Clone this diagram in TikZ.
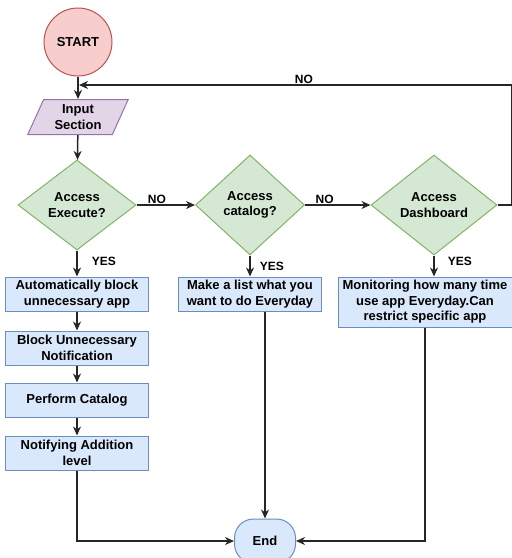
\documentclass[tikz,border=0pt]{standalone}
\usepackage{fontspec}
\setmainfont{Liberation Sans}
\usetikzlibrary{arrows.meta,shapes.geometric}

\definecolor{startfill}{HTML}{F8CECC}
\definecolor{startline}{HTML}{B85450}
\definecolor{inputfill}{HTML}{E1D5E7}
\definecolor{inputline}{HTML}{9673A6}
\definecolor{askfill}{HTML}{D5E8D4}
\definecolor{askline}{HTML}{82B366}
\definecolor{boxfill}{HTML}{DAE8FC}
\definecolor{boxline}{HTML}{6C8EBF}
\definecolor{wire}{HTML}{262626}

\begin{document}
\begin{tikzpicture}[
  x=1pt,y=-1pt,
  font=\fontsize{13}{15.5}\selectfont\bfseries,
  startnode/.style={circle,draw=startline,fill=startfill,line width=1pt,
    minimum size=68pt,inner sep=0pt},
  inputbox/.style={trapezium,trapezium left angle=67,trapezium right angle=113,
    trapezium stretches=true,draw=inputline,fill=inputfill,line width=1pt,
    minimum width=101pt,minimum height=35pt,inner sep=1pt,align=center},
  decision/.style={diamond,draw=askline,fill=askfill,line width=1pt,
    inner sep=0pt,align=center},
  box/.style={draw=boxline,fill=boxfill,line width=1pt,align=center,
    minimum width=143pt,minimum height=34pt,inner sep=2pt},
  endnode/.style={box,rounded corners=19pt,minimum width=61pt,minimum height=44pt},
  lbl/.style={font=\fontsize{12}{13}\selectfont\bfseries,inner sep=1pt},
  arr/.style={-{Stealth[length=9pt,width=8pt]},line width=1.5pt,draw=wire}
]
\useasboundingbox (0,0) rectangle (512,558);

\node[startnode] (start) at (78,42) {START};
\node[inputbox] (input) at (78,117) {Input\\Section};
\node[decision,minimum width=118pt,minimum height=90pt] (execute) at (77,205)
  {Access\\Execute?};
\node[decision,minimum width=109pt,minimum height=100pt] (catalog) at (250,205)
  {Access\\catalog?};
\node[decision,minimum width=126pt,minimum height=100pt] (dashboard) at (434,205)
  {Access\\Dashboard};
\node[box] (autoblock) at (77,294) {Automatically block\\unnecessary app};
\node[box] (notify) at (77,348) {Block Unnecessary\\Notification};
\node[box] (perform) at (77,400) {Perform Catalog};
\node[box] (addition) at (77,453) {Notifying Addition\\level};
\node[box] (makelist) at (250,294) {Make a list what you\\want to do Everyday};
\node[box,minimum width=174pt,minimum height=50pt] (monitor) at (425,302)
  {Monitoring how many time\\use app Everyday.Can\\restrict specific app};
\node[endnode] (end) at (265,541) {End};
\coordinate (join) at (79,85);

\draw[arr] (start) -- (input);
\draw[arr] (input) -- (execute);
\draw[arr] (execute) -- node[lbl,above,pos=.35]{NO} (catalog);
\draw[arr] (catalog) -- node[lbl,above,pos=.3]{NO} (dashboard);
\draw[arr] (dashboard.east) -- ++(14,0) |- node[lbl,above,pos=.74]{NO} (join);
\draw[arr] (execute) -- node[lbl,right=13pt,pos=.4]{YES} (autoblock);
\draw[arr] (catalog) -- node[lbl,right=8pt,pos=.5]{YES} (makelist);
\draw[arr] (dashboard) -- node[lbl,right=12pt,pos=.3]{YES} (monitor.north -| dashboard);
\draw[arr] (autoblock) -- (notify);
\draw[arr] (notify) -- (perform);
\draw[arr] (perform) -- (addition);
\draw[arr] (addition) |- (end.west);
\draw[arr] (makelist.south -| end) -- (end.north);
\draw[arr] (monitor.south) |- (end.east);
\end{tikzpicture}
\end{document}
